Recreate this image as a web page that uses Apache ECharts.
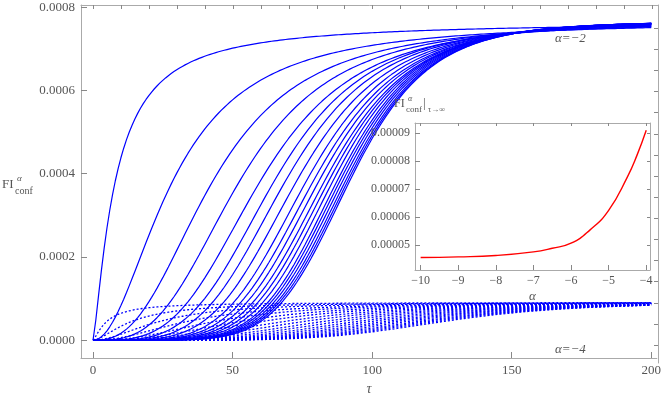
<!DOCTYPE html>
<html>
<head>
<meta charset="utf-8">
<script src="https://cdn.jsdelivr.net/npm/echarts@6/dist/echarts.min.js"></script>
<style>html,body{margin:0;padding:0;background:#fff}#main{width:664px;height:401px}</style>
</head>
<body>
<div id="main"></div>
<script>
// half-rise time and steepness of each curve
let solidMid = [8, 28.6, 43, 52.6, 60, 65, 69, 73, 76.5, 79, 81, 83, 84.5, 86, 87.5, 88.5, 89.5, 90.5, 91.3, 92],
    solidN = [1.3, 2, 2.6, 3.1, 3.5, 3.9, 4.2, 4.5, 4.8, 5, 5.2, 5.4, 5.6, 5.8, 6, 6.1, 6.2, 6.3, 6.4, 6.5],
    solidTop = 0.000766;
let dotMid = [5, 14, 24, 34, 44, 53, 61, 69, 76, 83, 89, 95, 100, 105, 109, 113, 117, 120, 123, 126],
    dotN = [1.3, 1.6, 1.9, 2.1, 2.4, 2.6, 2.8, 3, 3.2, 3.4, 3.6, 3.8, 4, 4.2, 4.4, 4.6, 4.8, 5, 5.2, 5.4],
    dotTop = 0.000091;
// inset: long-time limit vs alpha
let alphaVals = [-10, -9, -8, -7, -6.5, -6, -5.5, -5, -4.5, -4.25, -4],
    limitVals = [0.0000455, 0.0000457, 0.0000462, 0.0000475, 0.0000488, 0.0000506, 0.0000553, 0.0000624, 0.0000744, 0.000082, 0.0000911];

let xTicks = [0, 50, 100, 150, 200],
    yTicks = [0, 0.0002, 0.0004, 0.0006, 0.0008],
    aTicks = [-10, -9, -8, -7, -6, -5, -4],
    lTicks = [0.00005, 0.00006, 0.00007, 0.00008, 0.00009];

let grey = '#888', txt = '#555', serif = 'Liberation Serif';

function curve(m, n, top) {
    let pts = [];
    for (let t = 0; t <= 200; t += 1) {
        let a = Math.pow(t, n);
        pts.push([t, top * a / (a + Math.pow(m, n))]);
    }
    return pts;
}

let series = [];
solidMid.forEach((m, i) => series.push({
    type: 'line', xAxisIndex: 0, yAxisIndex: 0, showSymbol: false, silent: true,
    lineStyle: {color: '#0000ff', width: 1.2}, data: curve(m, solidN[i], solidTop)
}));
dotMid.forEach((m, i) => series.push({
    type: 'line', xAxisIndex: 0, yAxisIndex: 0, showSymbol: false, silent: true,
    lineStyle: {color: '#0000ff', width: 1.3, type: [2, 2]}, data: curve(m, dotN[i], dotTop)
}));
series.push({
    type: 'line', xAxisIndex: 2, yAxisIndex: 2, showSymbol: false, smooth: true, silent: true, z: 20,
    lineStyle: {color: '#ff0000', width: 1.4}, data: alphaVals.map((a, i) => [a, limitVals[i]])
});

let xMinor = [], yMinor = [];
for (let v = 0; v <= 200; v += 10) xMinor.push(v);
for (let v = 0; v <= 0.0008; v += 0.00005) yMinor.push(+v.toFixed(6));

function frameAxis(pos, grid, extra) {
    return Object.assign({
        type: 'value', position: pos, gridIndex: grid,
        axisLine: {show: true, onZero: false, lineStyle: {color: '#aaa'}},
        splitLine: {show: false},
        axisTick: {show: true, inside: true, length: 5, lineStyle: {color: grey}},
        axisLabel: {show: false}
    }, extra);
}

let myChart = echarts.init(document.getElementById('main'));
myChart.setOption({
    animation: false,
    grid: [
        {left: 81, right: 6, top: 5, bottom: 38},
        {left: 81, right: 6, top: 5, bottom: 38},
        {left: 415, width: 235, top: 123, height: 147, backgroundColor: '#fff', show: true, borderWidth: 0, z: 5}
    ],
    xAxis: [
        frameAxis('bottom', 0, {min: -4.3, max: 202,
            axisTick: {show: true, inside: true, length: 6, customValues: xTicks, lineStyle: {color: grey}},
            axisLabel: {show: true, customValues: xTicks, color: txt, fontFamily: serif, fontSize: 13, margin: 6},
            name: 'τ', nameLocation: 'middle', nameGap: 24,
            nameTextStyle: {fontFamily: serif, fontStyle: 'italic', fontSize: 14, color: txt}}),
        frameAxis('top', 1, {min: -4.3, max: 202,
            axisTick: {show: true, inside: true, length: 4, customValues: xMinor, lineStyle: {color: grey}}}),
        frameAxis('bottom', 2, {min: -10.15, max: -3.9, z: 6,
            axisTick: {show: true, inside: true, length: 5, customValues: aTicks, lineStyle: {color: grey}},
            axisLabel: {show: true, customValues: aTicks, color: txt, fontFamily: serif, fontSize: 12, margin: 5,
                formatter: v => v < 0 ? '\u2212' + (-v) : v},
            name: 'α', nameLocation: 'middle', nameGap: 20,
            nameTextStyle: {fontFamily: serif, fontStyle: 'italic', fontSize: 13, color: txt}}),
        frameAxis('top', 2, {min: -10.15, max: -3.9, z: 6,
            axisTick: {show: true, inside: true, length: 3, customValues: aTicks, lineStyle: {color: grey}}})
    ],
    yAxis: [
        frameAxis('left', 0, {min: -0.0000426, max: 0.000805,
            axisTick: {show: true, inside: true, length: 6, customValues: yTicks, lineStyle: {color: grey}},
            axisLabel: {show: true, customValues: yTicks, color: txt, fontFamily: serif, fontSize: 13, margin: 6,
                formatter: v => v.toFixed(4)}}),
        frameAxis('right', 1, {min: -0.0000426, max: 0.000805,
            axisTick: {show: true, inside: true, length: 4, customValues: yMinor, lineStyle: {color: grey}}}),
        frameAxis('left', 2, {min: 0.000041, max: 0.0000937, z: 6,
            axisTick: {show: true, inside: true, length: 5, customValues: lTicks, lineStyle: {color: grey}},
            axisLabel: {show: true, customValues: lTicks, color: txt, fontFamily: serif, fontSize: 12, margin: 5,
                formatter: v => v.toFixed(5)}}),
        frameAxis('right', 2, {min: 0.000041, max: 0.0000937, z: 6,
            axisTick: {show: true, inside: true, length: 3, customValues: lTicks, lineStyle: {color: grey}}})
    ],
    graphic: [
        // FI^alpha_conf on the left
        {type: 'text', left: 2, top: 178, style: {text: 'FI', fontFamily: serif, fontSize: 13, fill: txt}},
        {type: 'text', left: 17, top: 174, style: {text: 'α', fontFamily: serif, fontStyle: 'italic', fontSize: 9, fill: txt}},
        {type: 'text', left: 15, top: 186, style: {text: 'conf', fontFamily: serif, fontSize: 10, fill: txt}},
        {type: 'text', left: 555, top: 32, style: {text: 'α=−2', fontFamily: serif, fontStyle: 'italic', fontSize: 13, fill: txt}},
        {type: 'text', left: 555, top: 343, style: {text: 'α=−4', fontFamily: serif, fontStyle: 'italic', fontSize: 13, fill: txt}},
        // inset title FI^alpha_conf|tau->inf
        {type: 'text', left: 394, top: 98, z: 10, style: {text: 'FI', fontFamily: serif, fontSize: 12, fill: txt}},
        {type: 'text', left: 408, top: 95, z: 10, style: {text: 'α', fontFamily: serif, fontStyle: 'italic', fontSize: 8, fill: txt}},
        {type: 'text', left: 406, top: 105, z: 10, style: {text: 'conf', fontFamily: serif, fontSize: 9, fill: txt}},
        {type: 'text', left: 423, top: 97, z: 10, style: {text: '|', fontFamily: serif, fontSize: 13, fill: txt}},
        {type: 'text', left: 428, top: 106, z: 10, style: {text: 'τ→∞', fontFamily: serif, fontSize: 8, fill: txt}}
    ],
    series: series
});
window.addEventListener('resize', () => myChart.resize());
</script>
</body>
</html>
